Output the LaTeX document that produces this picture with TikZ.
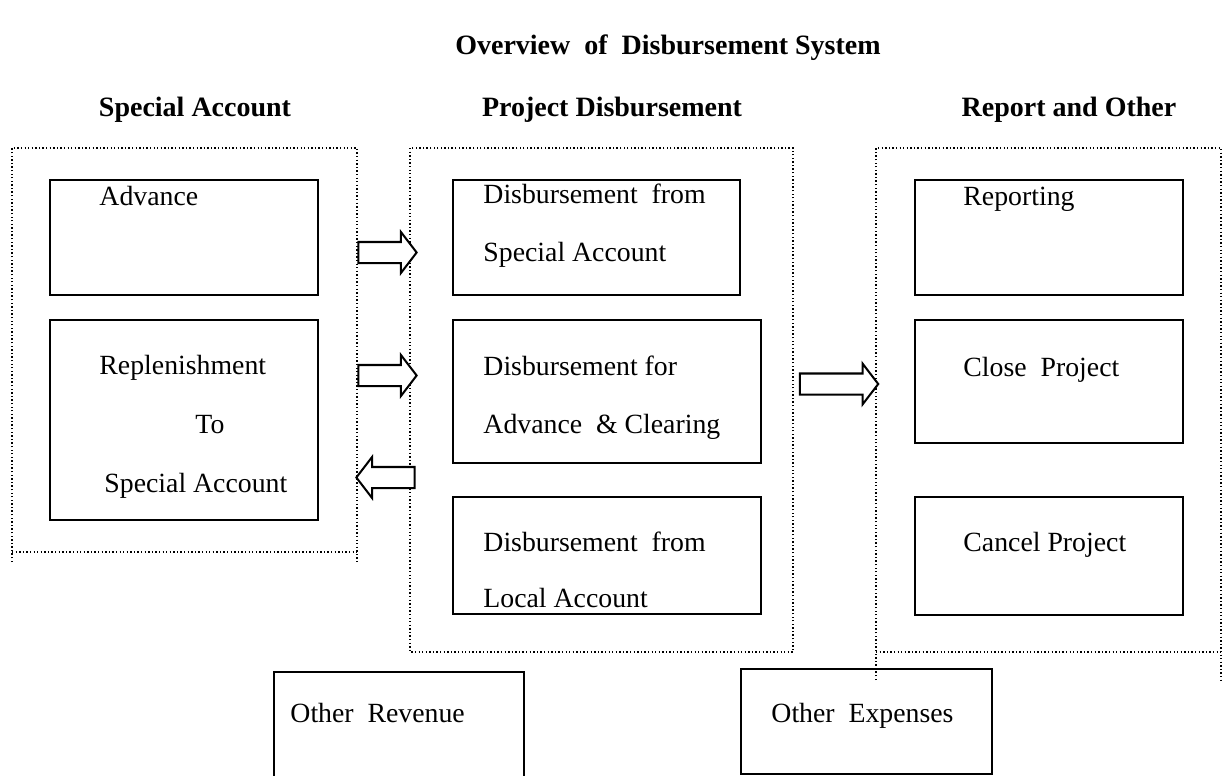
\documentclass[tikz,border=0pt]{standalone}
\usepackage{fontspec}
\setmainfont{Liberation Serif}
\usetikzlibrary{positioning, fit, shapes.arrows}

\begin{document}
\begin{tikzpicture}[
    x=0.4464pt, y=-0.4464pt,
    box/.style={draw, line width=0.9pt, inner sep=0pt},
    frame/.style={draw, densely dotted, line width=0.6pt},
    txt/.style={anchor=base west, inner sep=0pt, font=\fontsize{12.4}{14}\selectfont},
    heading/.style={anchor=base, inner sep=0pt, font=\bfseries\fontsize{12.5}{14}\selectfont},
    blockarrow/.style={single arrow, draw, line width=0.9pt, fill=white, inner xsep=0pt, inner ysep=4.24pt,
        minimum height=26pt, single arrow head extend=4.46pt, single arrow tip angle=105}
]
    \useasboundingbox (0,0) rectangle (1226,776);

    % Titles
    \node[heading] (title) at (668,54) {Overview\ \ of\ \ Disbursement System};
    \node[heading] (hspecial) at (195,116) {Special Account};
    \node[heading] (hproject) at (612,116) {Project Disbursement};
    \node[heading] (hreport) at (1069,116) {Report and Other};

    % Dotted frames
    \draw[frame] (12,562) -- (12,148) -- (357,148) -- (357,562) (12,552) -- (357,552);
    \draw[frame] (410,148) rectangle (793,652);
    \draw[frame] (876,680) -- (876,148) -- (1221,148) -- (1221,680) (876,652) -- (1221,652);

    % Special Account boxes
    \node[box, fit={(50,180) (318,295)}] (advance) {};
    \node[box, fit={(50,320) (318,520)}] (replenish) {};
    \node[txt] (advanceT) at (99,205) {Advance};
    \node[txt] (replenishT1) at (99,374) {Replenishment};
    \node[txt] (replenishT2) at (195,433) {To};
    \node[txt] (replenishT3) at (104,492) {Special Account};

    % Project Disbursement boxes
    \node[box, fit={(453,180) (740,295)}] (fromspecial) {};
    \node[box, fit={(453,320) (761,463)}] (clearing) {};
    \node[box, fit={(453,497) (761,614)}] (fromlocal) {};
    \node[txt] (fromspecialT1) at (483,203) {Disbursement\ \ from};
    \node[txt] (fromspecialT2) at (483,261) {Special Account};
    \node[txt] (clearingT1) at (483,375) {Disbursement for};
    \node[txt] (clearingT2) at (483,433) {Advance\ \ \&~Clearing};
    \node[txt] (fromlocalT1) at (483,551) {Disbursement\ \ from};
    \node[txt] (fromlocalT2) at (483,607) {Local Account};

    % Report and Other boxes
    \node[box, fit={(915,180) (1183,295)}] (reporting) {};
    \node[box, fit={(915,320) (1183,443)}] (close) {};
    \node[box, fit={(915,497) (1183,615)}] (cancel) {};
    \node[txt] (reportingT) at (963,205) {Reporting};
    \node[txt] (closeT) at (963,376) {Close\ \ Project};
    \node[txt] (cancelT) at (963,551) {Cancel Project};

    % Bottom boxes
    \node[box, fit={(274,672) (524,777)}] (revenue) {};
    \node[box, fit={(741,669) (992,774)}] (expenses) {};
    \node[txt] (revenueT) at (290,722) {Other\ \ Revenue};
    \node[txt] (expensesT) at (771,722) {Other\ \ Expenses};

    % Block arrows
    \node[blockarrow] (arr1) at (383.5,252.5) {};
    \node[blockarrow] (arr2) at (383.5,375.5) {};
    \node[blockarrow, shape border rotate=180] (arr3) at (389.5,477.5) {};
    \node[blockarrow, minimum height=35pt] (arr4) at (835,384) {};
\end{tikzpicture}
\end{document}
